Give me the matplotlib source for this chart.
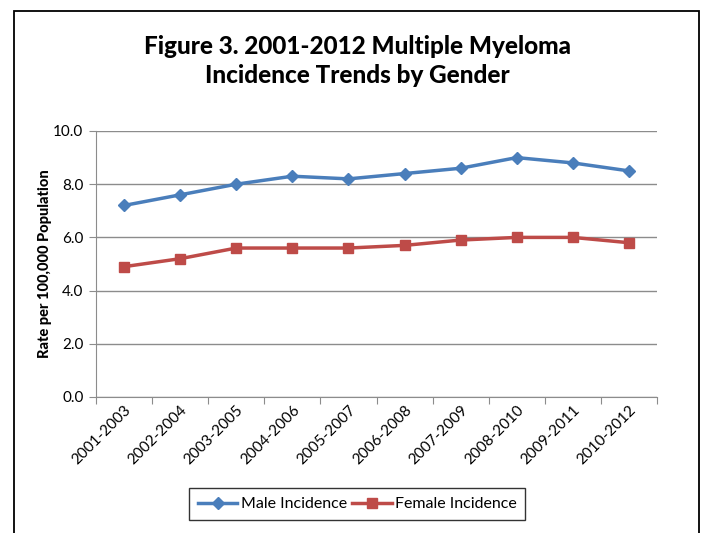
import numpy as np
import matplotlib.pyplot as plt
from matplotlib.patches import Rectangle

plt.rcParams['font.family'] = ['Lato', 'DejaVu Sans']

periods = ["2001-2003", "2002-2004", "2003-2005", "2004-2006", "2005-2007",
           "2006-2008", "2007-2009", "2008-2010", "2009-2011", "2010-2012"]
male = [7.2, 7.6, 8.0, 8.3, 8.2, 8.4, 8.6, 9.0, 8.8, 8.5]
female = [4.9, 5.2, 5.6, 5.6, 5.6, 5.7, 5.9, 6.0, 6.0, 5.8]

W, H = 704, 533
fig = plt.figure(figsize=(W / 100, H / 100), dpi=100)

# outer chart border (bottom edge runs off the image)
fig.patches.append(Rectangle((14 / W, -0.05), (699 - 14) / W, (H - 11) / H + 0.05,
                             transform=fig.transFigure, fill=False,
                             edgecolor="black", linewidth=1.3))

ax = fig.add_axes([96 / W, 1 - 397 / H, (657 - 96) / W, (397 - 131) / H])
x = np.arange(len(periods))

ax.plot(x, male, color="#4A7EBB", linewidth=2.5, marker="D", markersize=6,
        label="Male Incidence")
ax.plot(x, female, color="#BE4B48", linewidth=2.5, marker="s", markersize=7,
        label="Female Incidence")

ax.set_xlim(-0.5, len(periods) - 0.5)
ax.set_ylim(0, 10)
ax.set_yticks(np.arange(0, 10.1, 2))
ax.set_yticklabels([f"{v:.1f}" for v in np.arange(0, 10.1, 2)], fontsize=11)
ax.yaxis.grid(True, color="#8C8C8C", linewidth=1)
ax.set_axisbelow(True)

# category ticks between labels, labels at centre
ax.set_xticks(np.arange(-0.5, len(periods), 1))
ax.set_xticklabels([])
ax.set_xticks(x, minor=True)
ax.set_xticklabels(periods, minor=True, rotation=45, ha="right",
                   rotation_mode="anchor", fontsize=11)
ax.tick_params(axis="x", which="minor", length=0, pad=4)
ax.tick_params(axis="x", which="major", length=5, color="#8C8C8C")
ax.tick_params(axis="y", length=5, color="#8C8C8C", pad=4)

for s in ["top", "right"]:
    ax.spines[s].set_visible(False)
for s in ["left", "bottom"]:
    ax.spines[s].set_color("#8C8C8C")

ax.set_ylabel("Rate per 100,000 Population", fontsize=10.5, fontweight="black",
              labelpad=1)

fig.text(357 / W, 1 - 61 / H, "Figure 3. 2001-2012 Multiple Myeloma\nIncidence Trends by Gender",
         ha="center", va="center", fontsize=17.5, fontweight="black", linespacing=1.35)

leg = ax.legend(loc="center", bbox_to_anchor=((357 - 96) / (657 - 96), (397 - 504) / (397 - 131)),
                ncol=2, frameon=True, fancybox=False, edgecolor="black",
                fontsize=11.5, handlelength=2.5, columnspacing=0.3, handletextpad=0.2,
                borderpad=0.55)
leg.get_frame().set_linewidth(1)

fig.savefig("out.png", dpi=100)
